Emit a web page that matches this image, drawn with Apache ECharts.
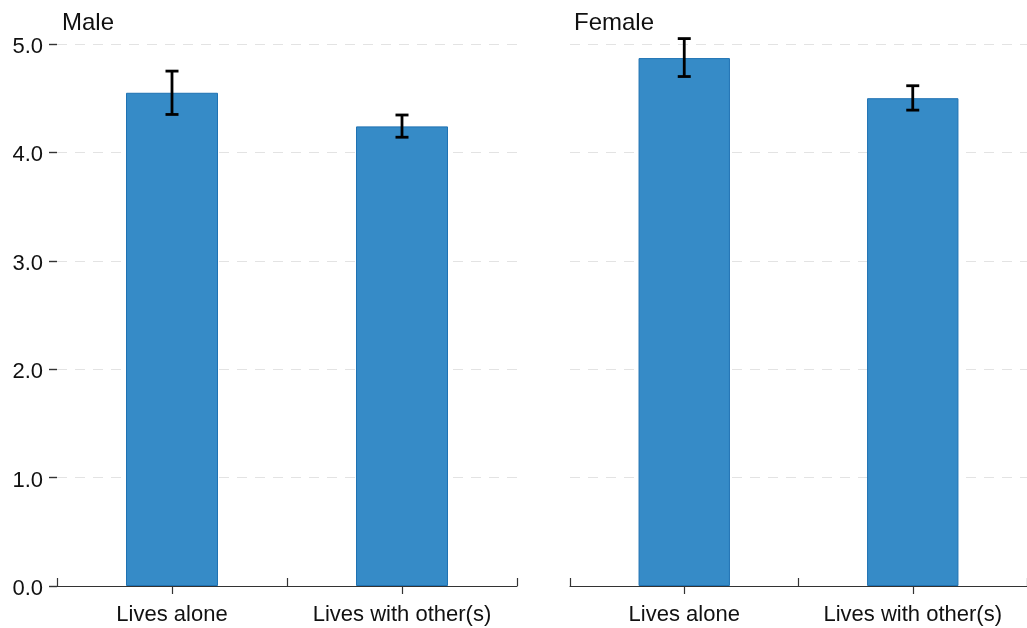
<!DOCTYPE html>
<html>
<head>
<meta charset="utf-8">
<script src="https://cdn.jsdelivr.net/npm/echarts@6/dist/echarts.min.js"></script>
<style>
html,body{margin:0;padding:0;background:#fff;}
#chart{width:1027px;height:628px;}
</style>
</head>
<body>
<div id="chart"></div>
<script>
const categories = ['Lives alone', 'Lives with other(s)'];
const panelTitles = ['Male', 'Female'];
const maleMean = [4.55, 4.24];
const maleLow = [4.35, 4.14];
const maleHigh = [4.75, 4.345];
const femaleMean = [4.87, 4.50];
const femaleLow = [4.70, 4.39];
const femaleHigh = [5.05, 4.615];
const yMin = 0, yMax = 5, yStep = 1;

const FONT = "'Liberation Sans', Arial, sans-serif";
const TEXT = '#111';

function errData(low, high) {
  return categories.map((c, i) => [i, low[i], high[i]]);
}
function renderErr(params, api) {
  const top = api.coord([api.value(0), api.value(2)]);
  const bot = api.coord([api.value(0), api.value(1)]);
  const hw = 6.5;
  const st = { stroke: '#000', lineWidth: 2.8 };
  return {
    type: 'group',
    children: [
      { type: 'line', shape: { x1: top[0], y1: top[1], x2: bot[0], y2: bot[1] }, style: st },
      { type: 'line', shape: { x1: top[0] - hw, y1: top[1], x2: top[0] + hw, y2: top[1] }, style: st },
      { type: 'line', shape: { x1: bot[0] - hw, y1: bot[1], x2: bot[0] + hw, y2: bot[1] }, style: st }
    ]
  };
}

function boundaryAxis(gi) {
  return {
    type: 'category', gridIndex: gi, data: categories, position: 'bottom', offset: 0,
    axisLine: { lineStyle: { color: '#333', width: 1.2 } },
    axisTick: { show: true, inside: true, length: 8, lineStyle: { color: '#333', width: 1.2 } },
    axisLabel: { show: false },
    splitLine: { show: false }
  };
}
function labelAxis(gi) {
  return {
    type: 'category', gridIndex: gi, data: categories, position: 'bottom', offset: 0,
    axisLine: { show: false },
    axisTick: { show: true, alignWithLabel: true, length: 8, lineStyle: { color: '#333', width: 1.2 } },
    axisLabel: { show: true, interval: 0, margin: 18, fontSize: 22, color: TEXT, fontFamily: FONT },
    splitLine: { show: false }
  };
}
function yAxis(gi, showLabels) {
  return {
    type: 'value', gridIndex: gi, min: yMin, max: yMax, interval: yStep,
    axisLine: { show: false },
    axisTick: { show: showLabels, length: 8, lineStyle: { color: '#333', width: 1.4 } },
    axisLabel: { show: showLabels, margin: 14, fontSize: 22, color: TEXT, fontFamily: FONT,
      verticalAlign: 'top', lineHeight: 6, formatter: v => v.toFixed(1) },
    splitLine: { show: true, lineStyle: { color: '#e3e3e3', width: 1, type: [10, 8] } }
  };
}
const barStyle = { color: '#368bc7', borderColor: '#1f72b3', borderWidth: 1 };

const chart = echarts.init(document.getElementById('chart'), null, { renderer: 'canvas' });
chart.setOption({
  animation: false,
  backgroundColor: '#fff',
  title: [
    { text: panelTitles[0], left: 62, top: 11, padding: 0, textStyle: { fontSize: 24, fontWeight: 'normal', color: TEXT, fontFamily: FONT } },
    { text: panelTitles[1], left: 574, top: 11, padding: 0, textStyle: { fontSize: 24, fontWeight: 'normal', color: TEXT, fontFamily: FONT } }
  ],
  grid: [
    { left: 57, top: 44, width: 460, bottom: 42 },
    { left: 570, top: 44, width: 460, bottom: 42 }
  ],
  xAxis: [boundaryAxis(0), labelAxis(0), boundaryAxis(1), labelAxis(1)],
  yAxis: [yAxis(0, true), yAxis(1, false)],
  series: [
    { type: 'bar', xAxisIndex: 0, yAxisIndex: 0, data: maleMean, barWidth: '40%', itemStyle: barStyle },
    { type: 'bar', xAxisIndex: 2, yAxisIndex: 1, data: femaleMean, barWidth: '40%', itemStyle: barStyle },
    { type: 'custom', xAxisIndex: 0, yAxisIndex: 0, data: errData(maleLow, maleHigh), renderItem: renderErr, z: 10,
      encode: { x: 0, y: [1, 2] } },
    { type: 'custom', xAxisIndex: 2, yAxisIndex: 1, data: errData(femaleLow, femaleHigh), renderItem: renderErr, z: 10,
      encode: { x: 0, y: [1, 2] } }
  ]
});
</script>
</body>
</html>
